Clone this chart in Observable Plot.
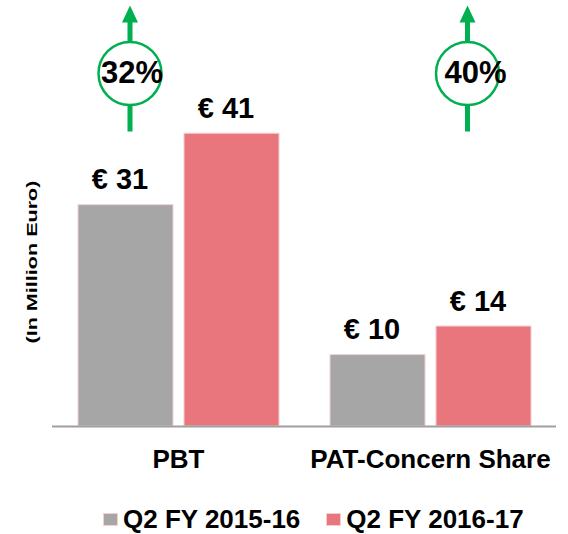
<!DOCTYPE html>
<html>
<head>
<meta charset="utf-8">
<script src="https://cdn.jsdelivr.net/npm/d3@7"></script>
<script src="https://cdn.jsdelivr.net/npm/@observablehq/plot@0.6"></script>
<style>
  html, body { margin: 0; padding: 0; background: #fff; }
  body { width: 568px; height: 534px; overflow: hidden; font-family: "Liberation Sans", Arial, sans-serif; }
  #legend { display: flex; align-items: center; height: 30px; padding-top: 14px; padding-left: 103px; font-weight: bold; font-size: 26px; color: #000; }
  #legend .item { display: flex; align-items: center; }
  #legend .sw { width: 15px; height: 13px; margin-right: 5px; box-sizing: border-box; border: 1px solid #f4cfcf; }
</style>
</head>
<body>
<div id="chart"></div>
<div id="legend"></div>
<script>
// ---- data ----
const categories = ["PBT", "PAT-Concern Share"];
const series = ["Q2 FY 2015-16", "Q2 FY 2016-17"];
const seriesColors = ["#a6a6a6", "#e9767c"];
const valuesQ2FY1516 = [31, 10];
const valuesQ2FY1617 = [41, 14];
const growthLabels = ["32%", "40%"];
const yAxisLabel = "(In Million Euro)";
const currency = "€";

const data = [];
categories.forEach((c, i) => {
  data.push({category: c, series: series[0], value: valuesQ2FY1516[i]});
  data.push({category: c, series: series[1], value: valuesQ2FY1617[i]});
});
const growth = categories.map((c, i) => ({category: c, pct: growthLabels[i]}));

const green = "#00b050";
// arrow glyph (shaft + head) drawn around the circle centre
const arrowSymbol = {
  draw(ctx) {
    ctx.moveTo(0, -68);
    ctx.lineTo(8, -51);
    ctx.lineTo(2.5, -51);
    ctx.lineTo(2.5, 58);
    ctx.lineTo(-2.5, 58);
    ctx.lineTo(-2.5, -51);
    ctx.lineTo(-8, -51);
    ctx.closePath();
  }
};

function growthMarks(d, anchorSeries, dx, textDx) {
  const rows = [d];
  const common = {fx: "category", x: () => anchorSeries, frameAnchor: "top", dy: 73, dx};
  return [
    Plot.dot(rows, {...common, symbol: arrowSymbol, fill: green, stroke: "none"}),
    Plot.dot(rows, {...common, r: 31.5, fill: "white", stroke: green, strokeWidth: 2.5}),
    Plot.text(rows, {...common, dx: dx + textDx, text: "pct", lineAnchor: "middle", fontSize: 31, fontWeight: "bold", fill: "#000"})
  ];
}

const chart = Plot.plot({
  width: 568,
  height: 490,
  marginLeft: 52,
  marginRight: 12,
  marginTop: 0,
  marginBottom: 64,
  style: {fontFamily: "Liberation Sans, Arial, sans-serif", background: "white", overflow: "visible"},
  fx: {domain: categories, padding: 0, axis: null},
  x: {domain: series, paddingInner: 0.104, paddingOuter: 0.24, axis: null},
  y: {domain: [0, 59.66], axis: null},
  color: {domain: series, range: seriesColors},
  marks: [
    Plot.barY(data, {fx: "category", x: "series", y: "value", fill: "series", stroke: "#f4cfcf", strokeWidth: 1}),
    Plot.ruleY([0], {stroke: "#a0a0a0", strokeWidth: 2}),
    Plot.text(data, {fx: "category", x: "series", y: "value", text: d => `${currency} ${d.value}`,
      lineAnchor: "bottom", dy: -16, dx: -6, fontSize: 29, fontWeight: "bold", fill: "#000"}),
    Plot.text(categories, {fx: d => d, text: d => d, frameAnchor: "bottom", lineAnchor: "bottom", dy: 41,
      fontSize: 26, fontWeight: "bold", fill: "#000"}),
    Plot.text([yAxisLabel], {fx: () => categories[0], text: d => d, frameAnchor: "left", rotate: -90,
      textAnchor: "start", lineAnchor: "middle", dx: -20, dy: 130, fontSize: 15, fontWeight: "bold", fill: "#000", className: "ylabel"}),
    ...growthMarks(growth[0], series[0], 4, 2),
    ...growthMarks(growth[1], series[1], -16.5, 8)
  ]
});
document.getElementById("chart").appendChild(chart);

// stretch the rotated axis label as in the original
d3.select(chart).selectAll(".ylabel text").attr("textLength", 163).attr("lengthAdjust", "spacingAndGlyphs");

// legend
const legend = d3.select("#legend");
series.forEach((s, i) => {
  const item = legend.append("div").attr("class", "item").style("margin-right", i === 0 ? "26px" : "0");
  item.append("div").attr("class", "sw").style("background", seriesColors[i]);
  item.append("span").text(s);
});
</script>
</body>
</html>
